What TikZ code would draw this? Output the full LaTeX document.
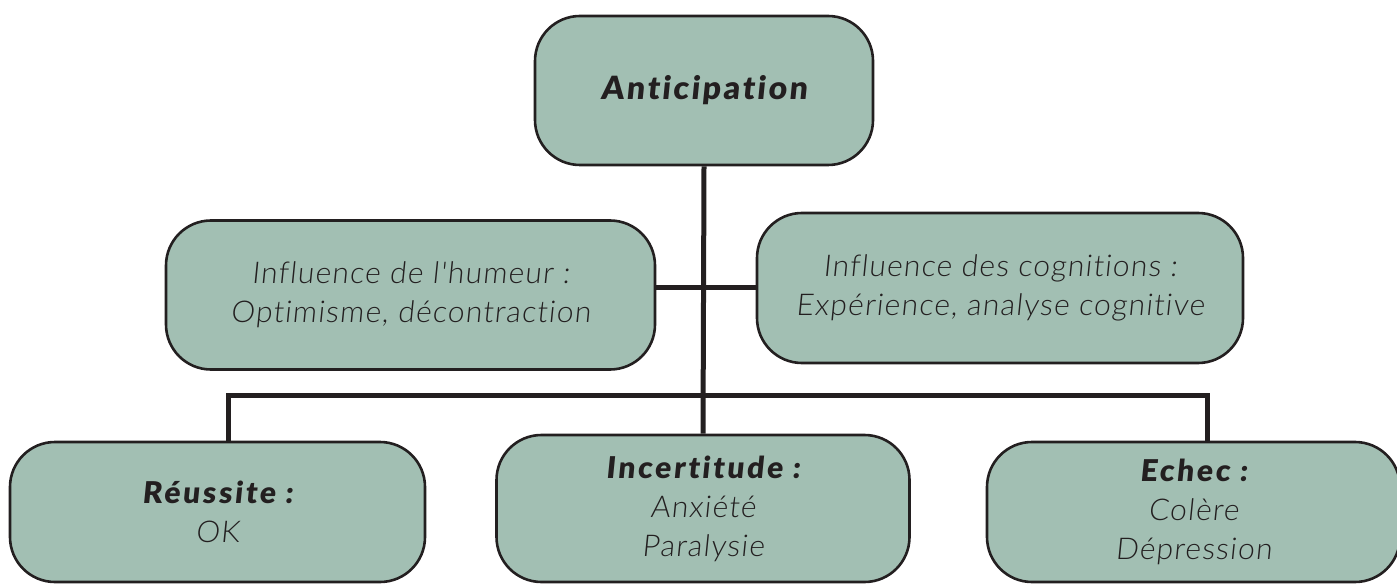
\documentclass[tikz,border=0pt]{standalone}
\usepackage{fontspec}
\newfontfamily\lightf{Lato Light}[FakeSlant=0.1, LetterSpace=4, Ligatures=NoCommon]
\newfontfamily\heavyf{Lato Black}[FakeSlant=0.1, LetterSpace=9, Ligatures=NoCommon]
\newfontfamily\heavyA{Lato Black}[FakeSlant=0.1, LetterSpace=8, Ligatures=NoCommon]
\definecolor{boxfill}{HTML}{A2BFB3}
\definecolor{ink}{HTML}{231F20}
\tikzset{
  box/.style={draw=ink, line width=2.6pt, fill=boxfill, rounded corners=45pt,
    align=center, text=ink, inner sep=0pt, font=\lightf\fontsize{30}{39}\selectfont},
  link/.style={draw=ink, line width=5pt}
}
\newcommand{\ttl}[1]{{\heavyf\fontsize{30}{39}\selectfont #1}}
\begin{document}
\begin{tikzpicture}[x=1pt,y=-1pt]
\useasboundingbox (0,0) rectangle (1397,585);
\node[box, minimum width=338pt, minimum height=149pt, font=\heavyA\fontsize{32}{39}\selectfont] (ant) at (704,90.5) {Anticipation};
\node[box, minimum width=489pt, minimum height=149pt] (hum) at (410.5,295) {Influence de l'humeur :\\Optimisme, décontraction};
\node[box, minimum width=486pt, minimum height=150pt] (cog) at (1000,288) {Influence des cognitions :\\Expérience, analyse cognitive};
\node[box, minimum width=415pt, minimum height=140pt] (reu) at (217.5,512) {\ttl{Réussite :}\\OK};
\node[box, minimum width=413pt, minimum height=147pt] (inc) at (703,508.5) {\ttl{Incertitude :}\\Anxiété\\Paralysie};
\node[box, minimum width=413pt, minimum height=140pt] (ech) at (1193.5,512) {\ttl{Echec :}\\Colère\\Dépression};
\coordinate (barL) at (228,395);
\coordinate (barR) at (1207,395);
\draw[link] (ant.south) -- (inc.north);
\draw[link] (hum.east |- cog.west) -- (cog.west);
\draw[link] (reu.north -| barL) -- (barL) -- (barR) -- (ech.north -| barR);
\end{tikzpicture}
\end{document}
